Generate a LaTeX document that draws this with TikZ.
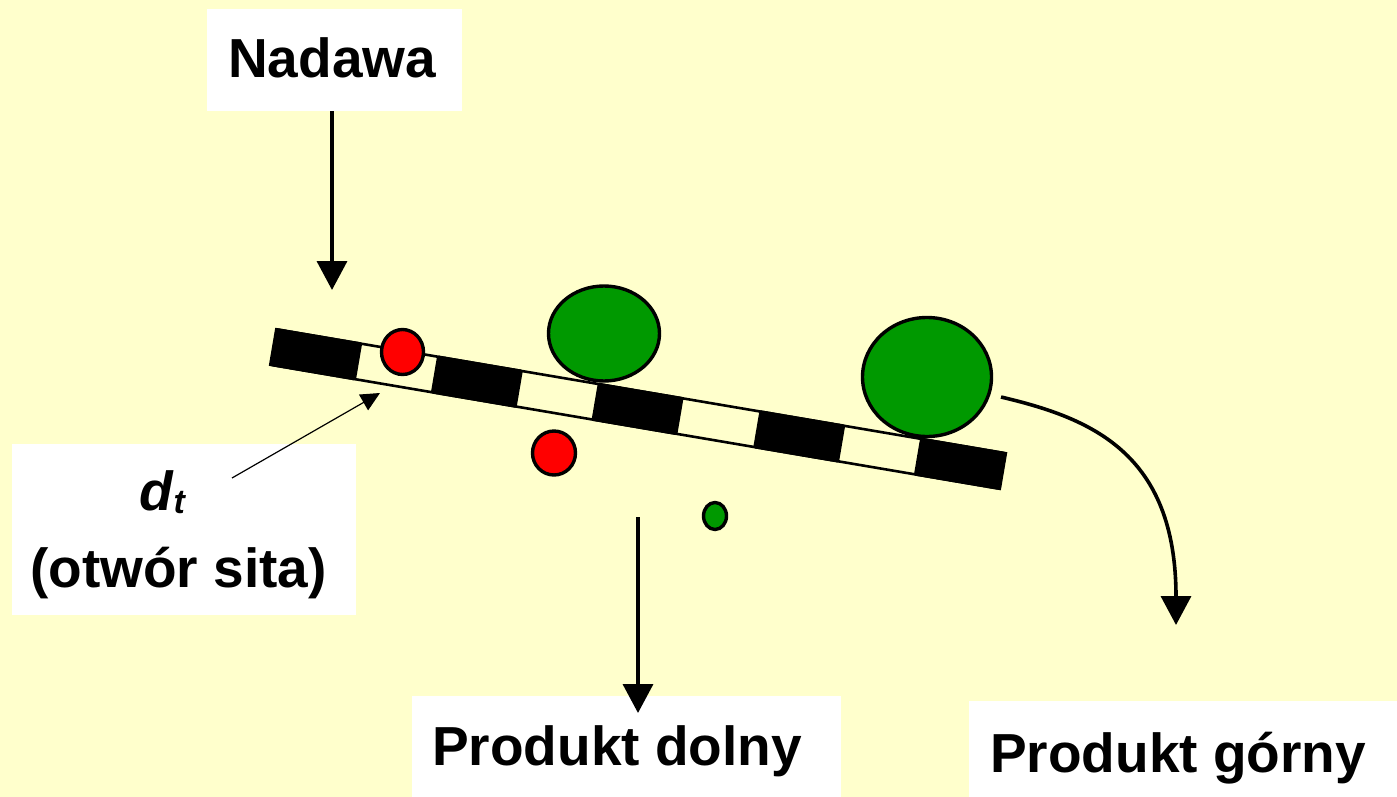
\documentclass[tikz,border=0pt]{standalone}
\usepackage{fontspec}
\setmainfont{Liberation Sans}
\usetikzlibrary{arrows.meta}
\definecolor{paper}{HTML}{FFFFCC}
\definecolor{coarse}{HTML}{009900}
\definecolor{fine}{HTML}{FF0000}

\begin{document}
\begin{tikzpicture}[x=1pt,y=-1pt,
  box/.style={fill=white, draw=none, inner sep=0pt, anchor=north west},
  lbl/.style={inner sep=0pt, anchor=base west, font=\fontsize{55}{66}\selectfont\bfseries},
  flow/.style={line width=3.6pt, -{Triangle[length=29pt,width=30pt]}},
  pointer/.style={line width=1.2pt, -{Triangle[length=19pt,width=18pt]}},
  grain/.style={line width=3.4pt, draw=black},
  block/.style={fill=black, rounded corners=2pt}
]
% background and page size
\fill[paper] (0,0) rectangle (1397,797);
\useasboundingbox (0,0) rectangle (1397,797);

% label boxes
\node[box, minimum width=255pt, minimum height=102pt] (nadawaBox) at (207,9) {};
\node[lbl] (nadawaText) at (228,78) {Nadawa};

\node[box, minimum width=344pt, minimum height=171pt] (holeBox) at (12,444) {};
\node[lbl] (holeSym) at (139,510) {\textit{d}\raisebox{-3pt}{\fontsize{34}{34}\selectfont\textit{t}}};
\node[lbl] (holeText) at (30,587) {(otwór sita)};

\node[box, minimum width=429pt, minimum height=101pt] (dolnyBox) at (412,696) {};
\node[lbl] (dolnyText) at (432,765) {Produkt dolny};

\node[box, minimum width=428pt, minimum height=96pt] (gornyBox) at (969,701) {};
\node[lbl] (gornyText) at (990,772) {Produkt górny};

% sieve deck with openings
\begin{scope}[shift={(273.3,347)}, rotate=-9.65]
  \draw[line width=2.6pt, fill=paper] (0,-18) rectangle (740,18);
  \foreach \s in {0,163,326,490,653}
    \fill[block] (\s,-19.3) rectangle ++(87,38.6);
\end{scope}

% particles
\draw[grain, fill=fine]   (402.5,352) ellipse [x radius=21pt, y radius=22.5pt];
\draw[grain, fill=fine]   (554,453)   ellipse [x radius=21.5pt, y radius=22pt];
\draw[grain, fill=coarse] (604,333.5) ellipse [x radius=55.5pt, y radius=47.5pt];
\draw[grain, fill=coarse] (927,377)   ellipse [x radius=64.5pt, y radius=59.5pt];
\draw[grain, fill=coarse] (715,516)   ellipse [x radius=11.5pt, y radius=13.5pt];

% flows
\coordinate (feedEnd) at (332,290);
\draw[flow] (nadawaBox.south -| feedEnd) -- (feedEnd);

\coordinate (underStart) at (638,517);
\coordinate (underEnd) at (638,713);
\draw[flow] (underStart) -- (underEnd);

\coordinate (overStart) at (1001,397);
\coordinate (overEnd) at (1176,625);
\draw[flow] (overStart) .. controls (1090,418) and (1176,452) .. (overEnd);

% opening size pointer
\coordinate (holeTail) at (232,478);
\coordinate (holeTip) at (380,393);
\draw[pointer] (holeTail) -- (holeTip);
\end{tikzpicture}
\end{document}
